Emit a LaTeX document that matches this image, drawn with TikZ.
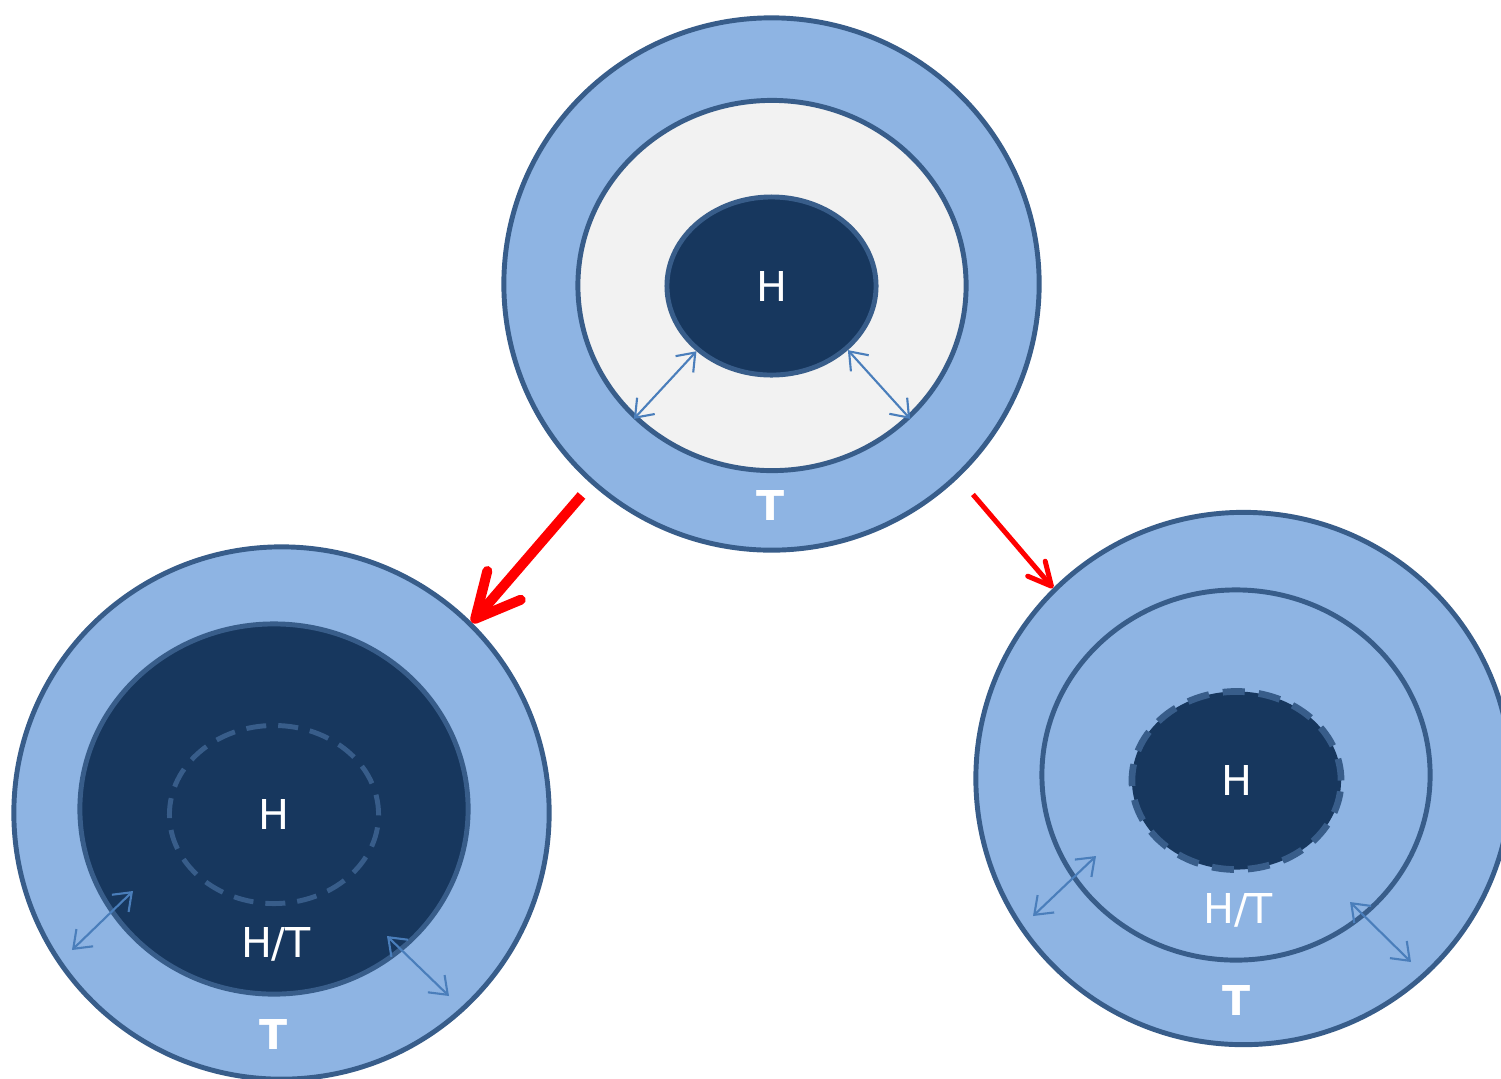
\documentclass[tikz,border=0pt]{standalone}
\usepackage{fontspec}
\setmainfont{DejaVu Sans}
\usetikzlibrary{shapes.geometric,arrows.meta}
\definecolor{ringblue}{HTML}{8EB4E3}
\definecolor{rim}{HTML}{385D8A}
\definecolor{navy}{HTML}{17375E}
\definecolor{pale}{HTML}{F2F2F2}
\definecolor{flexblue}{HTML}{4A7EBB}

\begin{document}
\begin{tikzpicture}[x=0.01cm, y=-0.01cm,
        shell/.style = {ellipse, draw=rim, line width=1.4pt, fill=ringblue, inner sep=0pt,
                        minimum width=5.35cm, minimum height=5.32cm},
        layer/.style = {ellipse, draw=rim, line width=1.4pt, inner sep=0pt,
                        minimum width=3.88cm, minimum height=3.70cm},
        core/.style  = {ellipse, fill=navy, inner sep=0pt, text=white,
                        minimum width=2.09cm, minimum height=1.78cm, font=\fontsize{11.7}{14}\selectfont},
        lbl/.style   = {text=white, inner sep=0pt, font=\fontsize{11.7}{14}\selectfont},
        tag/.style   = {text=white, inner sep=0pt, font=\fontsize{11.7}{14}\selectfont\bfseries},
        flex/.style  = {{Straight Barb[length=1.6mm,width=2.4mm]}-{Straight Barb[length=1.6mm,width=2.4mm]},
                        draw=flexblue, line width=0.6pt},
        jump/.style  = {-{Straight Barb[length=4.4mm,width=4.4mm,round]}, draw=red, line width=2.85pt},
        hop/.style   = {-{Straight Barb[length=2.3mm,width=2.3mm,round]}, draw=red, line width=1.42pt}
    ]
        \clip (0,0) rectangle (1501,1078);

        \node[shell]                                (topOuter) at (771.5,284)   {};
        \node[layer, fill=pale]                     (topMid)   at (772,285.5)   {};
        \node[core, draw=rim, line width=1.4pt]     (topCore)  at (771.5,286)   {H};
        \node[tag]                                  (topT)     at (771,505)     {T};
        \draw[flex] (topMid.224) -- (topCore.221);
        \draw[flex] (topCore.320) -- (topMid.316);

        \node[shell]                                (leftOuter) at (281.5,813)  {};
        \node[layer, fill=navy]                     (leftMid)   at (274,809)    {};
        \node[core, draw=rim, line width=1.4pt, dash pattern=on 0.2cm off 0.12cm]
                                                    (leftCore)  at (274,814.5)  {H};
        \node[lbl]                                  (leftHT)    at (276,944)    {H/T};
        \node[tag]                                  (leftT)     at (274,1034)   {T};
        \coordinate (la) at (72,950);   \coordinate (lb) at (133,891);
        \coordinate (lc) at (387,936);  \coordinate (ld) at (449,996);
        \draw[flex] (la) -- (lb);
        \draw[flex] (lc) -- (ld);

        \node[shell]                                (rightOuter) at (1243.5,778.5) {};
        \node[layer]                                (rightMid)   at (1236,775)     {};
        \node[core, draw=rim, line width=1.9pt, dash pattern=on 0.22cm off 0.14cm]
                                                    (rightCore)  at (1236.5,780.5) {H};
        \node[lbl]                                  (rightHT)    at (1238,910)     {H/T};
        \node[tag]                                  (rightT)     at (1237,1000)    {T};
        \coordinate (ra) at (1033,916); \coordinate (rb) at (1096,856);
        \coordinate (rc) at (1350,902); \coordinate (rd) at (1411,962);
        \draw[flex] (ra) -- (rb);
        \draw[flex] (rc) -- (rd);

        \draw[jump, shorten <=0.15cm] (topOuter.228) -- (leftOuter.45);
        \draw[hop,  shorten <=0.22cm] (topOuter.-46) -- (rightOuter.135);
    \end{tikzpicture}
\end{document}
